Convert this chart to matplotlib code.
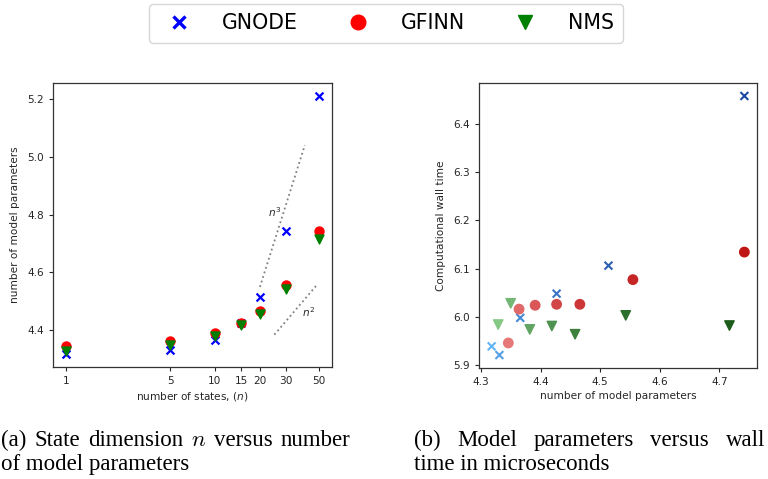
import numpy as np
import matplotlib
matplotlib.use('Agg')
import matplotlib.pyplot as plt
from matplotlib.colors import LinearSegmentedColormap
from matplotlib.lines import Line2D

# 状态维数
n_states = [1, 5, 10, 15, 20, 30, 50]

# 模型参数个数 (log10)
gnode_params = [4.318, 4.331, 4.366, 4.427, 4.514, 4.742, 5.21]
gfinn_params = [4.346, 4.364, 4.391, 4.427, 4.466, 4.555, 4.742]
nms_params = [4.329, 4.350, 4.382, 4.419, 4.458, 4.543, 4.717]

# 计算时间 (GNODE 没有 n=50 的时间)
gnode_time = [5.939, 5.921, 5.998, 6.048, 6.106, 6.457]
gfinn_time = [5.946, 6.016, 6.024, 6.026, 6.026, 6.077, 6.134]
nms_time = [5.984, 6.028, 5.974, 5.981, 5.964, 6.003, 5.982]

# 参考斜率线
n3_line_x = [20, 40]
n3_line_y = [4.55, 5.04]
n2_line_x = [25, 48]
n2_line_y = [4.385, 4.556]

xticks_left = [1, 5, 10, 15, 20, 30, 50]
yticks_left = [4.4, 4.6, 4.8, 5.0, 5.2]
xticks_right = [4.3, 4.4, 4.5, 4.6, 4.7]
yticks_right = [5.9, 6.0, 6.1, 6.2, 6.3, 6.4]

caption_a = [["(a)", "State", "dimension", "$n$", "versus", "number"], "of model parameters"]
caption_b = [["(b)", "Model", "parameters", "versus", "wall"], "time in microseconds"]

W, H = 768, 479
fig = plt.figure(figsize=(W / 100, H / 100), dpi=100)
txt_color = '#262626'
fs = 7.6

def px_axes(l, t, r, b):
    return fig.add_axes([l / W, 1 - b / H, (r - l) / W, (b - t) / H])

ax1 = px_axes(53, 83, 332, 367)
ax2 = px_axes(479, 83, 757, 368)

# 左图
ax1.scatter(n_states, gnode_params, marker='x', color='blue', s=32, linewidths=1.6, zorder=3)
ax1.scatter(n_states, gfinn_params, marker='o', color='red', s=42, zorder=3)
ax1.scatter(n_states, nms_params, marker='v', color='green', s=42, zorder=3)
ax1.plot(n3_line_x, n3_line_y, ':', color='gray', lw=1.3)
ax1.plot(n2_line_x, n2_line_y, ':', color='gray', lw=1.3)
ax1.text(25.0, 4.809, '$n^3$', fontsize=fs, color=txt_color, ha='center', va='center')
ax1.text(42.2, 4.462, '$n^2$', fontsize=fs, color=txt_color, ha='center', va='center')
ax1.set_xscale('log')
ax1.set_xticks(xticks_left)
ax1.set_xticklabels([str(v) for v in xticks_left])
ax1.minorticks_off()
ax1.set_yticks(yticks_left)
ax1.set_xlabel('number of states, ($n$)', fontsize=fs, color=txt_color, labelpad=3)
ax1.set_ylabel('number of model parameters', fontsize=fs, color=txt_color, labelpad=5)

# 右图, 颜色随 n 加深
def shades(light, dark, k):
    cm = LinearSegmentedColormap.from_list('c', [light, dark])
    return [cm(v) for v in np.linspace(0, 1, k)]

ax2.scatter(gnode_params[:len(gnode_time)], gnode_time, marker='x', s=32, linewidths=1.5,
            color=shades('#62b4f6', '#1f4aa3', len(gnode_time)), zorder=3)
ax2.scatter(gfinn_params, gfinn_time, marker='o', s=46,
            color=shades('#e67878', '#bf1515', len(gfinn_time)), zorder=3)
ax2.scatter(nms_params, nms_time, marker='v', s=46,
            color=shades('#85c985', '#1b5c1b', len(nms_time)), zorder=3)
ax2.set_xticks(xticks_right)
ax2.set_yticks(yticks_right)
ax2.set_xlabel('number of model parameters', fontsize=fs, color=txt_color, labelpad=3)
ax2.set_ylabel('Computational wall time', fontsize=fs, color=txt_color, labelpad=5)

for ax in (ax1, ax2):
    ax.tick_params(labelsize=fs, colors=txt_color, length=3, width=0.8)
    for sp in ax.spines.values():
        sp.set_color('#333333')
        sp.set_linewidth(0.9)

# 图例
handles = [
    Line2D([], [], ls='none', marker='x', color='blue', markersize=8.5, markeredgewidth=2.4),
    Line2D([], [], ls='none', marker='o', color='red', markersize=10.5),
    Line2D([], [], ls='none', marker='v', color='green', markersize=10.5),
]
fig.legend(handles, ['GNODE', 'GFINN', 'NMS'], loc='upper center', bbox_to_anchor=(386 / W, 1 - 4 / H),
           ncol=3, fontsize=14.8, frameon=True, handletextpad=1.1, columnspacing=1.9,
           borderpad=0.45, borderaxespad=0, edgecolor='#cccccc', fancybox=True)

# 子图标题 (两端对齐)
cap_fs = 16.5
renderer = fig.canvas.get_renderer()

def justified(words, x0, x1, y):
    items = [fig.text(0, y, w, fontsize=cap_fs, family='Liberation Serif', math_fontfamily='cm',
                      va='baseline', ha='left') for w in words]
    widths = [t.get_window_extent(renderer).width for t in items]
    gap = (x1 - x0 - sum(widths)) / (len(words) - 1)
    x = x0
    for t, w in zip(items, widths):
        t.set_x(x / W)
        x += w + gap

y1 = 1 - 446 / H
y2 = 1 - 470 / H
justified(caption_a[0], 1, 350, y1)
fig.text(1 / W, y2, caption_a[1], fontsize=cap_fs, family='Liberation Serif', va='baseline', ha='left')
justified(caption_b[0], 414, 765, y1)
fig.text(414 / W, y2, caption_b[1], fontsize=cap_fs, family='Liberation Serif', va='baseline', ha='left')

fig.savefig('out.png', dpi=100)
